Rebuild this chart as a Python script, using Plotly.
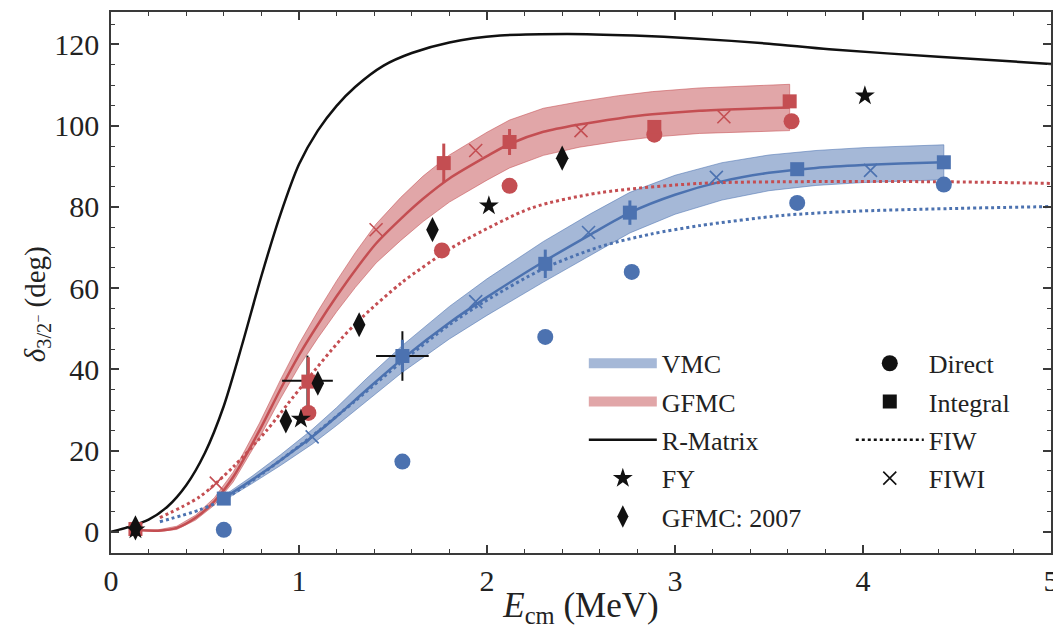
import plotly.graph_objects as go

RED = "#C44E52"
BLUE = "#4C72B0"
BLACK = "#111111"
FONT = "Liberation Serif, DejaVu Serif, Times New Roman, serif"

# ---------------- data ----------------
# R-Matrix
rm_x = [0.0, 0.1, 0.2, 0.3, 0.4, 0.5, 0.6, 0.7, 0.8, 0.9, 1.0, 1.1, 1.2, 1.3, 1.45, 1.6,
        1.8, 2.07, 2.43, 2.78, 3.1, 3.5, 3.82, 4.4, 5.0]
rm_y = [0.0, 1.3, 3.0, 6.2, 11.5, 19.5, 31.0, 46.5, 63.0, 78.0, 90.5, 98.8, 104.9, 109.6,
        114.8, 117.9, 120.5, 122.2, 122.6, 122.2, 121.5, 120.2, 118.8, 117.0, 115.2]

# GFMC central curve and band half-width
gf_x = [0.12, 0.25, 0.35, 0.45, 0.55, 0.65, 0.79, 0.90, 1.00, 1.10, 1.20, 1.30, 1.41, 1.54,
        1.66, 1.80, 2.00, 2.12, 2.30, 2.49, 2.70, 2.88, 3.13, 3.40, 3.61]
gf_y = [0.5, 0.3, 1.0, 3.5, 7.5, 13.5, 25.0, 35.0, 43.5, 51.0, 58.0, 64.5, 71.0, 77.0,
        82.0, 87.0, 92.5, 95.5, 98.5, 100.3, 101.8, 102.8, 103.7, 104.2, 104.5]
gf_err = [0.0, 0.2, 0.4, 0.6, 0.9, 1.2, 1.8, 2.3, 2.8, 3.3, 3.8, 4.3, 4.8, 5.3,
          5.6, 5.8, 5.9, 5.9, 5.8, 5.6, 5.6, 5.6, 5.6, 5.7, 5.7]

# VMC central curve and band half-width
vm_x = [0.60, 0.75, 0.90, 1.07, 1.20, 1.36, 1.55, 1.80, 2.00, 2.30, 2.55, 2.76, 3.00, 3.25,
        3.50, 3.75, 4.00, 4.20, 4.43]
vm_y = [8.3, 12.8, 17.6, 23.4, 28.4, 35.0, 42.6, 51.5, 57.8, 66.5, 73.2, 78.6, 83.0, 86.3,
        88.4, 89.6, 90.3, 90.7, 91.0]
vm_err = [0.6, 0.9, 1.3, 1.8, 2.2, 2.8, 3.3, 4.0, 4.5, 5.0, 5.1, 5.0, 4.8, 4.6,
          4.4, 4.3, 4.3, 4.3, 4.3]

# FIW (dotted)
fiw_red_x = [0.26, 0.47, 0.65, 0.83, 0.94, 1.04, 1.22, 1.34, 1.55, 1.79, 1.89, 2.24,
             2.60, 3.13, 3.57, 4.43, 5.0]
fiw_red_y = [3.5, 8.6, 16.0, 25.1, 31.5, 37.3, 47.3, 53.0, 61.5, 69.3, 72.0, 79.8,
             83.5, 85.8, 86.2, 86.2, 85.8]
fiw_blue_x = [0.26, 0.47, 0.60, 0.80, 1.07, 1.30, 1.55, 1.80, 1.98, 2.30, 2.60, 2.87, 3.13,
              3.57, 3.93, 4.46, 5.0]
fiw_blue_y = [2.5, 5.4, 8.0, 14.2, 23.6, 32.3, 42.0, 51.0, 56.5, 64.8, 70.2, 73.3, 75.4,
              77.9, 78.9, 79.6, 80.1]

# GFMC points
gf_dir_x = [1.05, 1.76, 2.12, 2.89, 3.62]
gf_dir_y = [29.3, 69.3, 85.2, 97.8, 101.1]
gf_int_x = [0.13, 1.05, 1.77, 2.12, 2.89, 3.61]
gf_int_y = [0.7, 37.0, 90.8, 96.0, 99.7, 106.0]
gf_int_e = [0.0, 6.0, 4.8, 3.2, 1.5, 0.0]
gf_fiwi_x = [0.56, 1.41, 1.94, 2.50, 3.26]
gf_fiwi_y = [12.0, 74.4, 93.9, 98.8, 102.2]

# VMC points
vm_dir_x = [0.60, 1.55, 2.31, 2.77, 3.65, 4.43]
vm_dir_y = [0.5, 17.3, 48.0, 64.0, 81.0, 85.5]
vm_int_x = [0.60, 1.55, 2.31, 2.76, 3.65, 4.43]
vm_int_y = [8.2, 43.3, 66.0, 78.6, 89.3, 91.0]
vm_int_e = [0.0, 4.0, 3.5, 3.0, 0.0, 0.0]
vm_fiwi_x = [1.07, 1.94, 2.54, 3.22, 4.04]
vm_fiwi_y = [23.4, 56.7, 73.7, 87.3, 89.0]

# FY and GFMC 2007
fy_x = [0.13, 1.01, 2.01, 4.01]
fy_y = [0.5, 27.8, 80.3, 107.4]
g07_x = [0.13, 0.93, 1.10, 1.32, 1.71, 2.40]
g07_y = [1.0, 27.3, 36.6, 51.0, 74.4, 92.0]

# experimental points with error bars
exp_x = [1.045, 1.55]
exp_y = [37.2, 43.3]
exp_xe = [0.135, 0.14]
exp_ye = [6.2, 6.1]

# ---------------- figure ----------------
fig = go.Figure()


def band(x, y, e, color_fill, color_line):
    up = [a + b for a, b in zip(y, e)]
    lo = [a - b for a, b in zip(y, e)]
    fig.add_trace(go.Scatter(
        x=list(x) + list(x)[::-1], y=up + lo[::-1], fill="toself",
        fillcolor=color_fill, mode="lines", line=dict(color=color_line, width=1),
        showlegend=False, hoverinfo="skip"))


band(vm_x, vm_y, vm_err, "rgba(76,114,176,0.5)", "rgba(76,114,176,0.55)")
band(gf_x, gf_y, gf_err, "rgba(196,78,82,0.5)", "rgba(196,78,82,0.55)")

SPL = dict(shape="spline", smoothing=0.8)

# central curves
fig.add_trace(go.Scatter(x=vm_x, y=vm_y, mode="lines", line=dict(color=BLUE, width=2.5, **SPL),
                         showlegend=False))
fig.add_trace(go.Scatter(x=gf_x, y=gf_y, mode="lines", line=dict(color=RED, width=2.5, **SPL),
                         showlegend=False))

# FIW dotted
fig.add_trace(go.Scatter(x=fiw_red_x, y=fiw_red_y, mode="lines",
                         line=dict(color=RED, width=3, dash="dot", **SPL), showlegend=False))
fig.add_trace(go.Scatter(x=fiw_blue_x, y=fiw_blue_y, mode="lines",
                         line=dict(color=BLUE, width=3, dash="dot", **SPL), showlegend=False))

# R-Matrix
fig.add_trace(go.Scatter(x=rm_x, y=rm_y, mode="lines", line=dict(color=BLACK, width=2.5, **SPL),
                         showlegend=False))

# experimental crosses
fig.add_trace(go.Scatter(x=exp_x, y=exp_y, mode="markers", marker=dict(size=1, color=BLACK, opacity=0),
                         error_x=dict(type="data", array=exp_xe, color=BLACK, thickness=2, width=0),
                         error_y=dict(type="data", array=exp_ye, color=BLACK, thickness=2, width=0),
                         showlegend=False))

# FIWI crosses
fig.add_trace(go.Scatter(x=gf_fiwi_x, y=gf_fiwi_y, mode="markers",
                         marker=dict(symbol="x-thin-open", size=13, color=RED, line=dict(width=1.6)),
                         showlegend=False))
fig.add_trace(go.Scatter(x=vm_fiwi_x, y=vm_fiwi_y, mode="markers",
                         marker=dict(symbol="x-thin-open", size=13, color=BLUE, line=dict(width=1.6)),
                         showlegend=False))

# Direct circles
fig.add_trace(go.Scatter(x=gf_dir_x, y=gf_dir_y, mode="markers",
                         marker=dict(symbol="circle", size=16, color=RED), showlegend=False))
fig.add_trace(go.Scatter(x=vm_dir_x, y=vm_dir_y, mode="markers",
                         marker=dict(symbol="circle", size=16, color=BLUE), showlegend=False))

# Integral squares
fig.add_trace(go.Scatter(x=gf_int_x, y=gf_int_y, mode="markers",
                         marker=dict(symbol="square", size=14, color=RED),
                         error_y=dict(type="data", array=gf_int_e, color=RED, thickness=3, width=0),
                         showlegend=False))
fig.add_trace(go.Scatter(x=vm_int_x, y=vm_int_y, mode="markers",
                         marker=dict(symbol="square", size=14, color=BLUE),
                         error_y=dict(type="data", array=vm_int_e, color=BLUE, thickness=3, width=0),
                         showlegend=False))

# FY stars and GFMC 2007 diamonds
fig.add_trace(go.Scatter(x=fy_x, y=fy_y, mode="markers",
                         marker=dict(symbol="star", size=15, color=BLACK), showlegend=False))
fig.add_trace(go.Scatter(x=g07_x, y=g07_y, mode="markers",
                         marker=dict(symbol="diamond-tall", size=18, color=BLACK), showlegend=False))


# ---------------- legend entries (proxies) ----------------
def proxy(name, legend, rank, **kw):
    fig.add_trace(go.Scatter(x=[None], y=[None], name=name, legend=legend, legendrank=rank,
                             legendgroup=name, **kw))


proxy("VMC", "legend", 1, mode="lines", line=dict(color="rgba(76,114,176,0.5)", width=17))
proxy("GFMC", "legend", 2, mode="lines", line=dict(color="rgba(196,78,82,0.5)", width=17))
proxy("R-Matrix", "legend", 3, mode="lines", line=dict(color=BLACK, width=2.5))
proxy("FY", "legend", 4, mode="markers", marker=dict(symbol="star", size=15, color=BLACK))
proxy("GFMC: 2007", "legend", 5, mode="markers", marker=dict(symbol="diamond-tall", size=18, color=BLACK))
proxy("Direct", "legend2", 1, mode="markers", marker=dict(symbol="circle", size=16, color=BLACK))
proxy("Integral", "legend2", 2, mode="markers", marker=dict(symbol="square", size=14, color=BLACK))
proxy("FIW", "legend2", 3, mode="lines", line=dict(color=BLACK, width=2.5, dash="dot"))
proxy("FIWI", "legend2", 4, mode="markers",
      marker=dict(symbol="x-thin-open", size=13, color=BLACK, line=dict(width=1.6)))

axis_common = dict(
    showline=True, linecolor="#3a3a3a", linewidth=1.5, mirror="ticks",
    ticks="inside", ticklen=8, tickwidth=1.5, tickcolor="#3a3a3a",
    showgrid=False, zeroline=False,
    tickfont=dict(family=FONT, size=30, color="#222222"),
    ticklabeloverflow="allow",
)

legend_common = dict(yanchor="top", xanchor="left", bgcolor="rgba(0,0,0,0)",
                     font=dict(family=FONT, size=26, color="#222222"),
                     itemwidth=68, tracegroupgap=1.5, traceorder="grouped",
                     borderwidth=0)

# page body has an 8 px margin; the figure is sized so the whole page is 1061 x 637
fig.update_layout(
    template="none",
    width=1045, height=621,
    margin=dict(l=103, r=2, t=4, b=76, autoexpand=False),
    paper_bgcolor="white", plot_bgcolor="white",
    font=dict(family=FONT, color="#222222"),
    xaxis=dict(range=[0, 5], dtick=1, tick0=0, automargin=True,
               minor=dict(ticks="inside", dtick=0.2, ticklen=4, tickwidth=1.2, tickcolor="#3a3a3a"),
               title=dict(text="<i>E</i><sub>cm</sub> (MeV)", font=dict(family=FONT, size=35), standoff=16),
               ticklabelstandoff=0,
               **axis_common),
    yaxis=dict(range=[-5.2, 128], dtick=20, tick0=0, automargin=False,
               minor=dict(ticks="inside", dtick=5, ticklen=4, tickwidth=1.2, tickcolor="#3a3a3a"),
               title=dict(text="<i>δ</i><sub>3/2<sup>−</sup></sub> (deg)" + "&nbsp;" * 6,
                          font=dict(family=FONT, size=29), standoff=0),
               ticklabelstandoff=4,
               **axis_common),
    legend=dict(x=0.503, y=0.394, **legend_common),
    legend2=dict(x=0.787, y=0.394, **legend_common),
    showlegend=True,
)

fig.write_html("out.html")
